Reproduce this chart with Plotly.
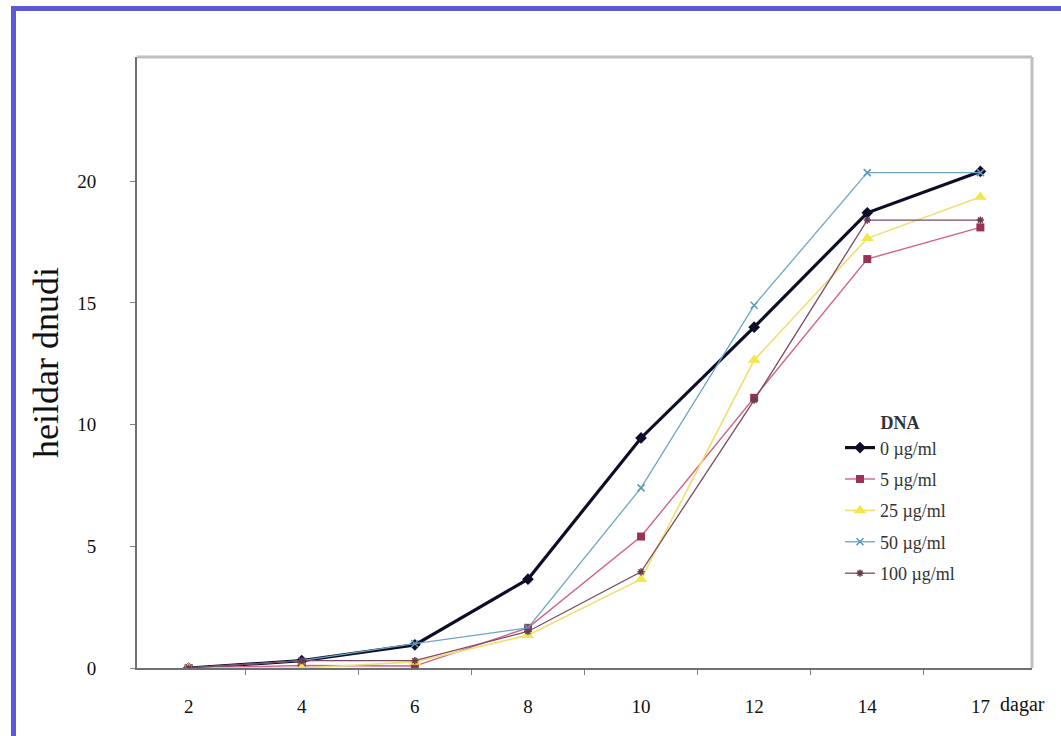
import plotly.graph_objects as go

days = ["2", "4", "6", "8", "10", "12", "14", "17"]
s0 = [0.0, 0.3, 0.95, 3.65, 9.45, 14.0, 18.7, 20.4]
s5 = [0.0, 0.1, 0.08, 1.65, 5.4, 11.1, 16.8, 18.1]
s25 = [0.0, 0.0, 0.25, 1.35, 3.65, 12.65, 17.65, 19.35]
s50 = [0.0, 0.3, 1.0, 1.65, 7.4, 14.9, 20.35, 20.35]
s100 = [0.0, 0.3, 0.3, 1.5, 3.95, 11.0, 18.4, 18.4]
names = ["0 µg/ml", "5 µg/ml", "25 µg/ml", "50 µg/ml", "100 µg/ml"]
y_ticks = [0, 5, 10, 15, 20]

W, H = 1061, 736
L, R, T, B = 137, 1032, 57, 668


def px(x):
    return (x - L) / (R - L)


def py(y):
    return (B - y) / (B - T)


serif = "Liberation Serif, Times New Roman, serif"

styles = [
    dict(line=dict(color="#0d0d2a", width=3.2), marker=dict(symbol="diamond", size=9, color="#0d0d2a")),
    dict(line=dict(color="#d0608e", width=1.4), marker=dict(symbol="square", size=8, color="#993355")),
    dict(line=dict(color="#eee070", width=1.6), marker=dict(symbol="triangle-up", size=11, color="#f2e64a")),
    dict(line=dict(color="#6aa6c2", width=1.3), marker=dict(symbol="x-thin", size=7, color="#5a9ab8", line=dict(width=1.5, color="#5a9ab8"))),
    dict(line=dict(color="#7a4a62", width=1.3), marker=dict(symbol="asterisk", size=6, color="#6a3a52", line=dict(width=1.5, color="#6a3a52"))),
]

fig = go.Figure()
for i, (name, vals, st) in enumerate(zip(names, [s0, s5, s25, s50, s100], styles)):
    fig.add_trace(go.Scatter(x=days, y=vals, name=name, mode="lines+markers",
                             legendgroup=f"g{i}", **st))

fig.update_layout(
    width=W, height=H,
    margin=dict(l=L, r=W - R, t=T, b=H - B),
    paper_bgcolor="white", plot_bgcolor="white",
    font=dict(family=serif, color="#222"),
    showlegend=True,
    legend=dict(
        x=px(840), y=py(406), xanchor="left", yanchor="top",
        font=dict(family=serif, size=18, color="#333"),
        title=dict(text="<b>DNA</b>", side="top center", font=dict(family=serif, size=18, color="#333")),
        bgcolor="rgba(0,0,0,0)", tracegroupgap=5, itemwidth=30,
    ),
    xaxis=dict(
        type="category", categoryorder="array", categoryarray=days,
        tickson="boundaries", ticks="outside", ticklen=5, tickcolor="#808080",
        showline=True, linecolor="#707070", linewidth=2, showgrid=False, zeroline=False,
        tickfont=dict(family=serif, size=19, color="#111"),
        ticklabelstandoff=20,
    ),
    yaxis=dict(
        range=[0, 25.1], tickvals=y_ticks, ticks="outside", ticklen=5, tickcolor="#808080",
        showline=True, linecolor="#707070", linewidth=2, showgrid=False, zeroline=False,
        tickfont=dict(family=serif, size=19, color="#111"),
        ticklabelstandoff=30,
    ),
    annotations=[
        dict(text="heildar dnudi", x=px(46), y=py(363), xref="paper", yref="paper",
             textangle=-90, showarrow=False, xanchor="center", yanchor="middle",
             font=dict(family=serif, size=36, color="#111")),
        dict(text="dagar", x=px(1022), y=py(704), xref="paper", yref="paper",
             showarrow=False, xanchor="center", yanchor="middle",
             font=dict(family=serif, size=20, color="#111")),
    ],
    shapes=[
        dict(type="line", xref="paper", yref="paper", x0=0, x1=1, y0=1, y1=1,
             line=dict(color="#c0c0c0", width=3)),
        dict(type="line", xref="paper", yref="paper", x0=1, x1=1, y0=0, y1=1,
             line=dict(color="#c0c0c0", width=3)),
        dict(type="rect", xref="paper", yref="paper", x0=px(11), x1=px(16), y0=py(736), y1=py(6),
             line=dict(width=0), fillcolor="#5a5ad8"),
        dict(type="rect", xref="paper", yref="paper", x0=px(11), x1=px(1061), y0=py(11), y1=py(6),
             line=dict(width=0), fillcolor="#5a5ad8"),
    ],
)

fig.write_html("out.html")
